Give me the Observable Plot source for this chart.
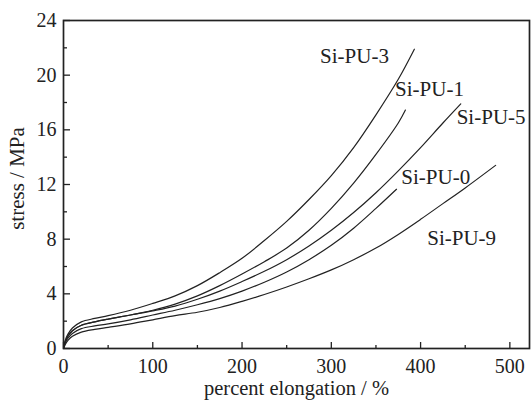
<!DOCTYPE html>
<html>
<head>
<meta charset="utf-8">
<script src="https://cdn.jsdelivr.net/npm/d3@7"></script>
<script src="https://cdn.jsdelivr.net/npm/@observablehq/plot@0.6"></script>
<style>
  html, body { margin: 0; padding: 0; background: #fff; overflow: hidden; }
  #chart svg { display: block; }
</style>
</head>
<body>
<div id="chart"></div>
<script>
// ---- data ----
const seriesNames = ["Si-PU-3", "Si-PU-1", "Si-PU-5", "Si-PU-0", "Si-PU-9"];

const pu3Strain = [0, 2, 5, 10, 20, 35, 50, 75, 100, 125, 150, 175, 200, 225, 250, 275, 300, 325, 350, 375, 393];
const pu3Stress = [0, 0.6, 1.05, 1.5, 1.95, 2.2, 2.4, 2.8, 3.3, 3.85, 4.6, 5.55, 6.6, 7.9, 9.3, 10.9, 12.65, 14.7, 17.1, 19.7, 21.9];

const pu1Strain = [0, 2, 5, 10, 20, 35, 50, 75, 100, 125, 150, 175, 200, 225, 250, 275, 300, 325, 350, 375, 383];
const pu1Stress = [0, 0.5, 0.9, 1.3, 1.7, 1.95, 2.15, 2.45, 2.8, 3.25, 3.85, 4.6, 5.45, 6.35, 7.35, 8.65, 10.25, 12.1, 14.2, 16.5, 17.45];

const pu5Strain = [0, 2, 5, 10, 20, 35, 50, 75, 100, 125, 150, 175, 200, 225, 250, 275, 300, 325, 350, 375, 400, 425, 445];
const pu5Stress = [0, 0.5, 0.9, 1.3, 1.7, 1.95, 2.15, 2.45, 2.75, 3.1, 3.6, 4.2, 4.9, 5.65, 6.5, 7.5, 8.65, 9.95, 11.4, 13.0, 14.7, 16.5, 17.9];

const pu0Strain = [0, 2, 5, 10, 20, 35, 50, 75, 100, 125, 150, 175, 200, 225, 250, 275, 300, 325, 350, 373];
const pu0Stress = [0, 0.4, 0.75, 1.1, 1.45, 1.65, 1.8, 2.1, 2.45, 2.8, 3.2, 3.65, 4.2, 4.85, 5.6, 6.5, 7.55, 8.8, 10.25, 11.65];

const pu9Strain = [0, 2, 5, 10, 20, 35, 50, 75, 100, 125, 150, 175, 200, 225, 250, 275, 300, 325, 350, 375, 400, 425, 450, 484];
const pu9Stress = [0, 0.3, 0.6, 0.9, 1.2, 1.4, 1.55, 1.8, 2.1, 2.4, 2.65, 3.0, 3.45, 3.95, 4.5, 5.1, 5.75, 6.5, 7.35, 8.35, 9.45, 10.6, 11.75, 13.4];

// label anchor points (data units)
const labelStrain = [326, 410, 479, 417, 446];
const labelStress = [21.36, 19.0, 16.9, 12.55, 8.07];

// ticks
const xMajor = [0, 100, 200, 300, 400, 500];
const xMinor = [50, 150, 250, 350, 450];
const yMajor = [0, 4, 8, 12, 16, 20, 24];
const yMinor = [2, 6, 10, 14, 18, 22];

const xTitle = "percent elongation / %";
const yTitle = "stress / MPa";

// ---- build table ----
const strainSets = [pu3Strain, pu1Strain, pu5Strain, pu0Strain, pu9Strain];
const stressSets = [pu3Stress, pu1Stress, pu5Stress, pu0Stress, pu9Stress];
const rows = [];
seriesNames.forEach((name, k) => {
  strainSets[k].forEach((s, i) => rows.push({series: name, strain: s, stress: stressSets[k][i]}));
});
const labels = seriesNames.map((name, k) => ({name, strain: labelStrain[k], stress: labelStress[k]}));

const ink = "#222";
const chart = Plot.plot({
  width: 531,
  height: 401,
  marginLeft: 63,
  marginRight: 2,
  marginTop: 20,
  marginBottom: 53,
  style: {fontFamily: "'Liberation Serif', 'Times New Roman', serif", fontSize: "20px", color: ink, background: "#fff"},
  x: {domain: [0, 522], label: null},
  y: {domain: [0, 24], label: null},
  marks: [
    Plot.axisX(xMinor, {tickSize: -3, tickFormat: () => "", label: null, stroke: ink, strokeWidth: 1.3}),
    Plot.axisX(xMajor, {tickSize: -6, tickPadding: 16, label: null, stroke: ink, strokeWidth: 1.3, fill: ink, fontSize: 20}),
    Plot.axisY(yMinor, {tickSize: -4, tickFormat: () => "", label: null, stroke: ink, strokeWidth: 1.3}),
    Plot.axisY(yMajor, {tickSize: -7, tickPadding: 14, label: null, stroke: ink, strokeWidth: 1.3, fill: ink, fontSize: 20}),
    Plot.line(rows, {x: "strain", y: "stress", z: "series", curve: "catmull-rom", stroke: ink, strokeWidth: 1.2}),
    Plot.text(labels, {x: "strain", y: "stress", text: "name", fill: ink, fontSize: 21, textAnchor: "middle"}),
    Plot.text([xTitle], {frameAnchor: "bottom", dy: 40, textAnchor: "middle", lineAnchor: "middle", fill: ink, fontSize: 20.5}),
    Plot.text([yTitle], {frameAnchor: "left", dx: -46, dy: -6, rotate: -90, textAnchor: "middle", lineAnchor: "middle", fill: ink, fontSize: 21}),
    Plot.frame({stroke: ink, strokeWidth: 1.7})
  ]
});
document.getElementById("chart").appendChild(chart);
</script>
</body>
</html>
